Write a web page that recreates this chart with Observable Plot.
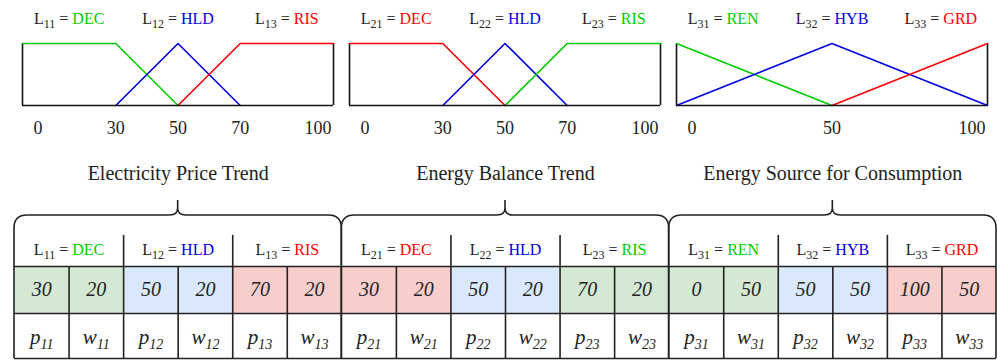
<!DOCTYPE html>
<html><head><meta charset="utf-8">
<script src="https://cdn.jsdelivr.net/npm/d3@7"></script>
<script src="https://cdn.jsdelivr.net/npm/@observablehq/plot@0.6"></script>
<style>
body{margin:0;background:#fff;}
#chart svg{display:block;}
</style></head><body><div id="chart"></div>
<script>
// ---------- data ----------
const groupTitles = ["Electricity Price Trend", "Energy Balance Trend", "Energy Source for Consumption"];
const levelIds = [["11","12","13"],["21","22","23"],["31","32","33"]];
const levelNames = [["DEC","HLD","RIS"],["DEC","HLD","RIS"],["REN","HYB","GRD"]];
const levelHues = [["green","blue","red"],["red","blue","green"],["green","blue","red"]];
const pValues = [[30,50,70],[30,50,70],[0,50,100]];
const wValues = [[20,20,20],[20,20,20],[50,50,50]];
const axisTicks = [[0,30,50,70,100],[0,30,50,70,100],[0,50,100]];
// membership-function breakpoints (x, membership)
const mfX = [
  [[0,30,50],[30,50,70],[50,70,100]],
  [[0,30,50],[30,50,70],[50,70,100]],
  [[0,50],[0,50,100],[50,100]]
];
const mfY = [
  [[1,1,0],[0,1,0],[0,1,1]],
  [[1,1,0],[0,1,0],[0,1,1]],
  [[1,0],[0,1,0],[0,1]]
];

// ---------- styles / layout ----------
const LINE = {green:"#00cc00", blue:"#0000e6", red:"#ff0000"};
const FILL = {green:"#d5e8d4", blue:"#dae8fc", red:"#f8cecc"};
const INK = "#222";
const FONT = "'Liberation Serif', 'Times New Roman', serif";
const labelAnchor = [15, 50, 85];
const SW = 1.6;

// ---------- derived tables ----------
const hueById = {};
const mfRows = [], topLabels = [], tickRows = [], levels = [], cells = [];
groupTitles.forEach((g, gi) => {
  levelIds[gi].forEach((id, li) => {
    const hue = levelHues[gi][li];
    hueById[id] = hue;
    mfX[gi][li].forEach((x, k) => mfRows.push({panel: gi, id, hue, x, y: mfY[gi][li][k]}));
    topLabels.push({panel: gi, x: labelAnchor[li], text: `L${id} = ${levelNames[gi][li]}`});
    const col = gi * 6 + li * 2;
    levels.push({col, li, text: `L${id} = ${levelNames[gi][li]}`});
    cells.push({col, hue, value: pValues[gi][li], label: `p${id}`});
    cells.push({col: col + 1, hue, value: wValues[gi][li], label: `w${id}`});
  });
  axisTicks[gi].forEach((t, k) => tickRows.push({panel: gi, x: t, pos: k === 0 ? "first" : k === axisTicks[gi].length - 1 ? "last" : "mid"}));
});

// ---------- top: membership functions ----------
const topPlot = Plot.plot({
  width: 997, height: 145,
  marginTop: 43, marginBottom: 40, marginLeft: 21, marginRight: 9,
  x: {domain: [0, 100], axis: null},
  y: {domain: [0, 1], axis: null},
  fx: {domain: [0, 1, 2], paddingInner: 0.05, paddingOuter: 0, axis: null, label: null},
  color: {type: "identity"},
  style: {fontFamily: FONT, color: INK, background: "white", overflow: "visible"},
  marks: [
    Plot.ruleX([0, 100], {y1: 0, y2: 1, stroke: "#111", strokeWidth: SW}),
    Plot.line(mfRows, {fx: "panel", x: "x", y: "y", z: "id", stroke: d => LINE[d.hue], strokeWidth: SW}),
    Plot.ruleY([0], {x1: 0, x2: 100, stroke: "#111", strokeWidth: SW}),
    Plot.text(tickRows.filter(d => d.pos === "first"), {fx: "panel", x: "x", y: 0, dy: 23, dx: 11, textAnchor: "start", text: d => String(d.x), fontSize: 18, fill: INK}),
    Plot.text(tickRows.filter(d => d.pos === "mid"), {fx: "panel", x: "x", y: 0, dy: 23, text: d => String(d.x), fontSize: 18, fill: INK}),
    Plot.text(tickRows.filter(d => d.pos === "last"), {fx: "panel", x: "x", y: 0, dy: 23, dx: -2, textAnchor: "end", text: d => String(d.x), fontSize: 18, fill: INK}),
    Plot.text(topLabels, {fx: "panel", x: "x", y: 1, dy: -25, text: "text", fontSize: 16, fill: INK})
  ]
});

// ---------- bottom: braces + parameter table ----------
const braceMark = (index, scales) => {
  const {x, y} = scales;
  const g = d3.create("svg:g").attr("fill", "none").attr("stroke", INK).attr("stroke-width", SW);
  groupTitles.forEach((t, gi) => {
    const x0 = x(gi * 6), x1 = x(gi * 6 + 6), xm = (x0 + x1) / 2;
    const yl = y(0), yt = y(-1), yb = y(3);
    const r = 13, rt = 8;
    const d = `M${x0},${yb}V${yl + r}Q${x0},${yl} ${x0 + r},${yl}H${xm - rt}Q${xm},${yl} ${xm},${yl - 7}V${yt}` +
              `M${xm},${yl - 7}Q${xm},${yl} ${xm + rt},${yl}H${x1 - r}Q${x1},${yl} ${x1},${yl + r}V${yb}`;
    g.append("path").attr("d", d);
  });
  return g.node();
};

const bottomPlot = Plot.plot({
  width: 997, height: 215,
  marginTop: 0, marginBottom: 0, marginLeft: 14, marginRight: 1,
  x: {domain: [0, 18], axis: null},
  y: {type: "linear", domain: [-2, -1, 0, 1, 2, 3], range: [28, 55, 70, 121, 168, 213], axis: null},
  color: {type: "identity"},
  style: {fontFamily: FONT, color: INK, background: "white", overflow: "visible"},
  marks: [
    Plot.rect(cells, {x1: "col", x2: d => d.col + 1, y1: 1, y2: 2, fill: d => FILL[d.hue]}),
    Plot.ruleY([1, 2, 3], {x1: 0, x2: 18, stroke: INK, strokeWidth: SW}),
    Plot.ruleX(levels.filter(d => d.li > 0), {x: "col", y1: 0.39, y2: 3, stroke: INK, strokeWidth: SW}),
    Plot.ruleX(cells.filter(d => d.col % 2 === 1), {x: "col", y1: 1, y2: 3, stroke: INK, strokeWidth: SW}),
    braceMark,
    Plot.text(groupTitles, {x: (d, i) => i * 6 + 3, y: -2, text: d => d, fontSize: 20, fill: INK}),
    Plot.text(levels, {x: d => d.col + 1, y: 0.68, text: "text", fontSize: 16, fill: INK}),
    Plot.text(cells, {x: d => d.col + 0.5, y: 1.5, text: d => String(d.value), fontSize: 20, fontStyle: "italic", fontFamily: FONT, fill: INK}),
    Plot.text(cells, {x: d => d.col + 0.5, y: 2.53, text: "label", fontSize: 21, fontStyle: "italic", fontFamily: FONT, fill: INK})
  ]
});

// ---------- rich text: subscripts and coloured level names ----------
function richify(svg) {
  const NS = "http://www.w3.org/2000/svg";
  const span = (parent, txt, attrs) => {
    const s = document.createElementNS(NS, "tspan");
    for (const k in attrs) s.setAttribute(k, attrs[k]);
    s.textContent = txt;
    parent.appendChild(s);
    return s;
  };
  svg.querySelectorAll("text").forEach(t => {
    const s = t.textContent;
    let m;
    if ((m = s.match(/^L(\d+) = (\w+)$/))) {
      t.textContent = "";
      span(t, "L", {});
      span(t, m[1], {"font-size": "12px", dy: "4"});
      span(t, " = ", {dy: "-4"});
      span(t, m[2], {fill: LINE[hueById[m[1]]]});
    } else if ((m = s.match(/^([pw])(\d+)$/))) {
      t.textContent = "";
      span(t, m[1], {});
      span(t, m[2], {"font-size": "14px", dy: "5"});
    }
  });
}
richify(topPlot);
richify(bottomPlot);
const root = document.getElementById("chart");
root.appendChild(topPlot);
root.appendChild(bottomPlot);
</script></body></html>
